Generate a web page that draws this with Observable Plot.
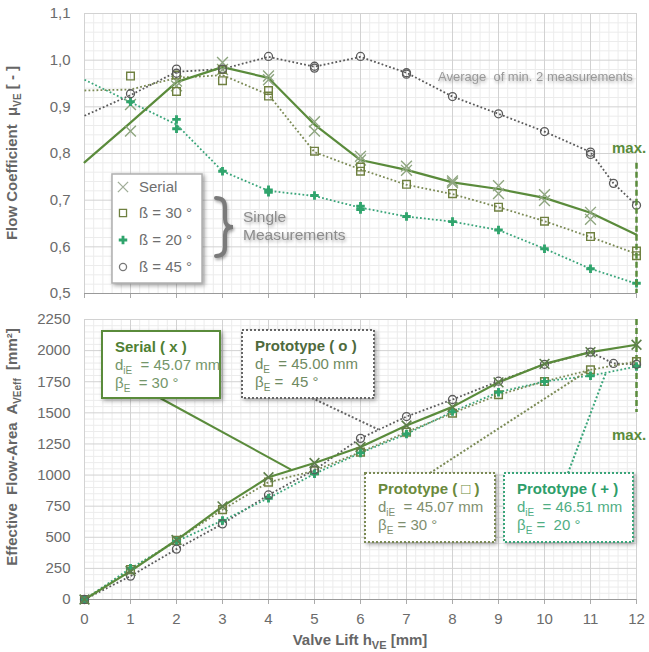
<!DOCTYPE html>
<html><head><meta charset="utf-8">
<script src="https://cdn.jsdelivr.net/npm/d3@7"></script>
<script src="https://cdn.jsdelivr.net/npm/@observablehq/plot@0.6"></script>
<style>
body{margin:0;background:#fff;}
#chart{width:649px;height:652px;position:relative;overflow:hidden;}
#chart svg{display:block;}
</style></head><body><div id="chart"></div>
<script>
// ---------- data ----------
const lift  = [0,1,2,3,4,5,6,7,8,9,10,11,12];
const liftO = [0,1,2,3,4,5,6,7,8,9,10,11,11.5,12];

// Flow coefficient mu_VE (top)
const muSerialFit = [0.781,0.866,0.953,0.985,0.962,0.862,0.786,0.765,0.738,0.724,0.705,0.673,0.626];
const muSerialM1  = [null,0.848,0.955,0.995,0.966,0.868,0.794,0.773,0.741,0.731,0.712,0.674,null];
const muSerialM2  = [null,0.905,0.945,0.980,0.958,0.848,0.786,0.764,0.737,0.714,0.699,0.659,null];
const mu30Avg = [0.935,0.937,0.962,0.968,0.926,0.803,0.766,0.733,0.713,0.685,0.655,0.621,0.585];
const mu30M1  = [null,0.966,0.933,0.956,0.935,0.805,0.771,0.734,0.714,0.685,0.655,0.622,0.591];
const mu30M2  = [null,null,0.968,0.980,0.923,null,0.762,null,null,null,null,null,0.581];
const mu20Avg = [0.958,0.910,0.862,0.762,0.720,0.709,0.684,0.665,0.654,0.636,0.596,0.553,0.521];
const mu20M1  = [null,0.911,0.873,0.762,0.722,0.710,0.687,0.665,0.654,0.636,0.596,0.553,0.522];
const mu20M2  = [null,null,0.853,null,0.717,null,0.680,null,null,null,null,null,null];
const mu45Avg = [0.881,0.925,0.975,0.981,1.007,0.986,1.007,0.973,0.922,0.885,0.847,0.803,0.736,0.689];
const mu45M1  = [null,0.928,0.981,0.981,1.008,0.987,1.008,0.973,0.922,0.885,0.847,0.803,0.736,0.689];
const mu45M2  = [null,null,0.972,null,null,0.983,null,0.970,null,null,null,0.798,null,null];

// Effective flow area A_VEeff (bottom)
const aSerial = [0,228,478,748,982,1097,1225,1398,1548,1745,1893,1988,2047];
const a30     = [0,240,475,722,943,1035,1184,1345,1497,1645,1752,1846,1912];
const a20     = [0,250,468,635,814,1010,1178,1330,1510,1666,1752,1798,1872];
const a45     = [0,188,405,608,840,1042,1295,1470,1607,1754,1890,1988,1897,1890];

const yTicksMu   = [0.5,0.6,0.7,0.8,0.9,1.0,1.1];
const yTicksArea = [0,250,500,750,1000,1250,1500,1750,2000,2250];

// ---------- styles ----------
const FONT = "'Liberation Sans', Arial, sans-serif";
const C = {serial:"#5a8b3b", serialMk:"#8ea57f", sq:"#6f8040", sqLine:"#7b8a55",
           plus:"#2fa46c", plusLine:"#3aa57a", circ:"#5a5a5a", grid:"#d2d2d2", minor:"#ececec", text:"#6b6b6b"};
const W = 649;
const minorX = d3.range(0,61).filter(i => i%5).map(i => i/5);
const minorYMu = d3.range(0,31).filter(i => i%5).map(i => +(0.5+i*0.02).toFixed(2));
const minorYArea = d3.range(0,46).filter(i => i%5).map(i => i*50);

const pts = (xs, ys) => xs.map((x,i) => ({x, y: ys[i]})).filter(d => d.y != null);
const dotted = (stroke) => ({x: "x", y: "y", stroke, strokeWidth: 1.8, strokeDasharray: "1.8,2.2", strokeLinecap: "butt"});

function grids(minorY, majorY) {
  return [
    Plot.gridX({ticks: minorX, stroke: C.minor, strokeOpacity: 1}),
    Plot.gridY({ticks: minorY, stroke: C.minor, strokeOpacity: 1}),
    Plot.gridX({ticks: lift, stroke: C.grid, strokeOpacity: 1}),
    Plot.gridY({ticks: majorY, stroke: C.grid, strokeOpacity: 1})
  ];
}

// ---------- top plot ----------
const plotTop = Plot.plot({
  width: W, height: 305, marginLeft: 84, marginRight: 13, marginTop: 13, marginBottom: 12,
  style: {fontFamily: FONT, fontSize: "15px", color: C.text, background: "white", overflow: "visible"},
  x: {domain: [0,12]}, y: {domain: [0.5,1.1]},
  marks: [
    ...grids(minorYMu, yTicksMu),
    Plot.axisY({ticks: yTicksMu, tickSize: 0, tickPadding: 14, label: null,
      tickFormat: d => d3.format(".1f")(d).replace(".", ",")}),
    Plot.axisX({ticks: lift, tickSize: 5, tickFormat: () => "", label: null, stroke: "#aaa"}),
    Plot.ruleY([0.5], {stroke: "#9a9a9a"}),
    Plot.line(pts(liftO, mu45Avg), dotted(C.circ)),
    Plot.line(pts(lift, mu30Avg), dotted(C.sqLine)),
    Plot.line(pts(lift, mu20Avg), dotted(C.plusLine)),
    Plot.line(pts(lift, muSerialFit), {x: "x", y: "y", stroke: C.serial, strokeWidth: 2.2}),
    Plot.dot(pts(lift, muSerialM1).concat(pts(lift, muSerialM2)), {x: "x", y: "y", symbol: "times", stroke: C.serialMk, r: 5, strokeWidth: 1.4}),
    Plot.dot(pts(lift, mu30M1).concat(pts(lift, mu30M2)), {x: "x", y: "y", symbol: "square", stroke: C.sq, r: 4.3, strokeWidth: 1.4}),
    Plot.dot(pts(lift, mu20M1).concat(pts(lift, mu20M2)), {x: "x", y: "y", symbol: "cross", fill: C.plus, r: 3.6}),
    Plot.dot(pts(liftO, mu45M1).concat(pts(liftO, mu45M2)), {x: "x", y: "y", symbol: "circle", stroke: C.circ, r: 4, strokeWidth: 1.3}),
    Plot.ruleX([12], {y1: 0.779, y2: 0.5, stroke: C.serial, strokeWidth: 2.5, strokeDasharray: "6,3"})
  ]
});

// ---------- bottom plot ----------
const plotBottom = Plot.plot({
  width: W, height: 347, marginLeft: 84, marginRight: 13, marginTop: 14, marginBottom: 53,
  style: {fontFamily: FONT, fontSize: "15px", color: C.text, background: "white", overflow: "visible"},
  x: {domain: [0,12]}, y: {domain: [0,2250]},
  marks: [
    ...grids(minorYArea, yTicksArea),
    Plot.axisY({ticks: yTicksArea, tickSize: 0, tickPadding: 14, label: null, tickFormat: d3.format("d")}),
    Plot.axisX({ticks: lift, tickSize: 5, tickFormat: () => "", label: null, stroke: "#aaa"}),
    Plot.axisX({ticks: lift, tickSize: 0, tickPadding: 14, label: null, tickFormat: d3.format("d")}),
    Plot.ruleY([0], {stroke: "#9a9a9a"}),
    Plot.ruleX([12], {y1: 2250, y2: 1503, stroke: C.serial, strokeWidth: 2.5, strokeDasharray: "6,3"}),
    Plot.line(pts(liftO, a45), dotted(C.circ)),
    Plot.line(pts(lift, a30), dotted(C.sqLine)),
    Plot.line(pts(lift, a20), dotted(C.plusLine)),
    Plot.line(pts(lift, aSerial), {x: "x", y: "y", stroke: C.serial, strokeWidth: 2.2}),
    Plot.dot(pts(lift, a30), {x: "x", y: "y", symbol: "square", stroke: C.sq, r: 4.3, strokeWidth: 1.5}),
    Plot.dot(pts(lift, a20), {x: "x", y: "y", symbol: "cross", fill: C.plus, r: 3.6}),
    Plot.dot(pts(liftO, a45), {x: "x", y: "y", symbol: "circle", stroke: C.circ, r: 4, strokeWidth: 1.3}),
    Plot.dot(pts(lift, aSerial), {x: "x", y: "y", symbol: "times", stroke: "#5f7f4c", r: 4.5, strokeWidth: 1.6})
  ]
});

const root = document.getElementById("chart");
root.append(plotTop, plotBottom);

// ---------- annotations ----------
function rich(g, x, y, parts, attrs) {
  const t = g.append("text").attr("x", x).attr("y", y).attr("font-family", FONT).attr("text-anchor", "start");
  for (const k in attrs) t.attr(k, attrs[k]);
  let sub = false;
  for (const p of parts) {
    if (typeof p === "string") {
      const s = t.append("tspan").text(p);
      if (sub) { s.attr("dy", -4); sub = false; }
    } else {
      t.append("tspan").text(p.sub).attr("font-size", p.size || 10).attr("dy", 4);
      sub = true;
    }
  }
  return t;
}
const shadow = "drop-shadow(2px 2px 2px rgba(0,0,0,0.35))";

// top annotations
const gt = d3.select(plotTop).append("g").attr("text-anchor", "start");
const sxT = plotTop.scale("x"), syT = plotTop.scale("y");
rich(gt, 0, 0, ["Flow Coefficient  μ", {sub: "VE"}, " [ - ]"],
  {"font-weight": "bold", "font-size": 15, fill: "#666", "text-anchor": "middle",
   transform: `translate(17,${(syT.apply(0.5)+syT.apply(1.1))/2}) rotate(-90)`});
gt.append("text").attr("x", 438).attr("y", 81).attr("font-family", FONT).attr("font-size", 13)
  .attr("fill", "#9a9a9a").attr("style", "filter:drop-shadow(1px 2px 1.5px rgba(0,0,0,0.3))")
  .text("Average  of min. 2 measurements");
gt.append("text").attr("x", 612).attr("y", 153).attr("font-family", FONT).attr("font-size", 15)
  .attr("font-weight", "bold").attr("fill", C.serial).text("max.");

// legend
gt.append("rect").attr("x", 112).attr("y", 174).attr("width", 90).attr("height", 109)
  .attr("fill", "white").attr("stroke", "#b0b0b0").attr("stroke-width", 1.5).attr("style", "filter:" + shadow);
const legItems = [
  {label: "Serial", sym: d3.symbolTimes, size: 70, stroke: "#a0ad98", fill: "none"},
  {label: "ß = 30 °", sym: d3.symbolSquare, size: 50, stroke: C.sq, fill: "none"},
  {label: "ß = 20 °", sym: d3.symbolCross, size: 40, stroke: "none", fill: C.plus},
  {label: "ß = 45 °", sym: d3.symbolCircle, size: 40, stroke: "#777", fill: "none"}
];
const legY = [187, 213, 240, 267];
legItems.forEach((d, i) => {
  gt.append("path").attr("d", d3.symbol(d.sym, d.size)()).attr("transform", `translate(123,${legY[i]})`)
    .attr("stroke", d.stroke).attr("fill", d.fill).attr("stroke-width", 1.3);
  gt.append("text").attr("x", 139).attr("y", legY[i] + 5).attr("font-family", FONT).attr("font-size", 15)
    .attr("fill", "#6f6f6f").text(d.label);
});
gt.append("path").attr("d", "M216,198 q9,0 9,9 v12 q0,8 8,8 q-8,0 -8,8 v12 q0,9 -9,9")
  .attr("fill", "none").attr("stroke", "#7a7a7a").attr("stroke-width", 4).attr("stroke-linecap", "round")
  .attr("style", "filter:drop-shadow(1px 2px 1.5px rgba(0,0,0,0.35))");
["Single", "Measurements"].forEach((s, i) => {
  gt.append("text").attr("x", 243).attr("y", 222 + i*18).attr("font-family", FONT).attr("font-size", 15.5)
    .attr("fill", "#8c8c8c").attr("style", "filter:drop-shadow(1px 2px 1.5px rgba(0,0,0,0.3))").text(s);
});

// bottom annotations
const gb = d3.select(plotBottom).append("g").attr("text-anchor", "start");
const sxB = plotBottom.scale("x"), syB = plotBottom.scale("y");
const OFF = 305;
rich(gb, 0, 0, ["Effective  Flow-Area  A", {sub: "VEeff"}, "  [mm²]"],
  {"font-weight": "bold", "font-size": 15, fill: "#666", "text-anchor": "middle",
   transform: `translate(17,${447-OFF}) rotate(-90)`});
rich(gb, sxB.apply(6), 645-OFF, ["Valve Lift h", {sub: "VE", size: 11}, " [mm]"],
  {"font-weight": "bold", "font-size": 15, fill: "#666", "text-anchor": "middle"});
gb.append("text").attr("x", 612).attr("y", 440-OFF).attr("font-family", FONT).attr("font-size", 15)
  .attr("font-weight", "bold").attr("fill", C.serial).text("max.");

const boxes = [
  {x: 102, y: 331, w: 118, h: 67, stroke: C.serial, dash: null, title: "Serial ( x )", tc: "#4f7f33", bc: "#74966a",
   l2: ["d", {sub: "iE"}, "  = 45.07 mm"], l3: ["β", {sub: "E"}, "  = 30 °"], from: [160, 398], to: [4.5, 1040]},
  {x: 242, y: 330, w: 132, h: 68, stroke: "#666", dash: "2,2", title: "Prototype ( o )", tc: "#4e6a3c", bc: "#6f8a62",
   l2: ["d", {sub: "E"}, "  = 45.00 mm"], l3: ["β", {sub: "E"}, " =  45 °"], from: [312, 398], to: [6.4, 1362]},
  {x: 365, y: 473, w: 130, h: 69, stroke: C.sqLine, dash: "2,2", title: "Prototype ( □ )", tc: "#6a8a3c", bc: "#7f8f6f",
   l2: ["d", {sub: "iE"}, "  = 45.07 mm"], l3: ["β", {sub: "E"}, " = 30 °"], from: [430, 473], to: [11, 1846]},
  {x: 504, y: 473, w: 129, h: 69, stroke: C.plusLine, dash: "2,2", title: "Prototype ( + )", tc: "#2e9e6a", bc: "#4fae84",
   l2: ["d", {sub: "iE"}, "  = 46.51 mm"], l3: ["β", {sub: "E"}, " =  20 °"], from: [568, 473], to: [11.35, 1822]}
];
boxes.forEach(b => {
  gb.append("line").attr("x1", b.from[0]).attr("y1", b.from[1]-OFF)
    .attr("x2", sxB.apply(b.to[0])).attr("y2", syB.apply(b.to[1]))
    .attr("stroke", b.stroke).attr("stroke-width", 2).attr("stroke-dasharray", b.dash);
});
boxes.forEach(b => {
  gb.append("rect").attr("x", b.x).attr("y", b.y-OFF).attr("width", b.w).attr("height", b.h)
    .attr("fill", "white").attr("stroke", b.stroke).attr("stroke-width", 2).attr("stroke-dasharray", b.dash)
    .attr("style", "filter:" + shadow);
  const tx = b.x + 13;
  gb.append("text").attr("x", tx).attr("y", b.y-OFF+21).attr("font-family", FONT).attr("font-size", 15)
    .attr("font-weight", "bold").attr("fill", b.tc).text(b.title);
  rich(gb, tx, b.y-OFF+39, b.l2, {"font-size": 15, fill: b.bc});
  rich(gb, tx, b.y-OFF+57, b.l3, {"font-size": 15, fill: b.bc});
});
</script></body></html>
